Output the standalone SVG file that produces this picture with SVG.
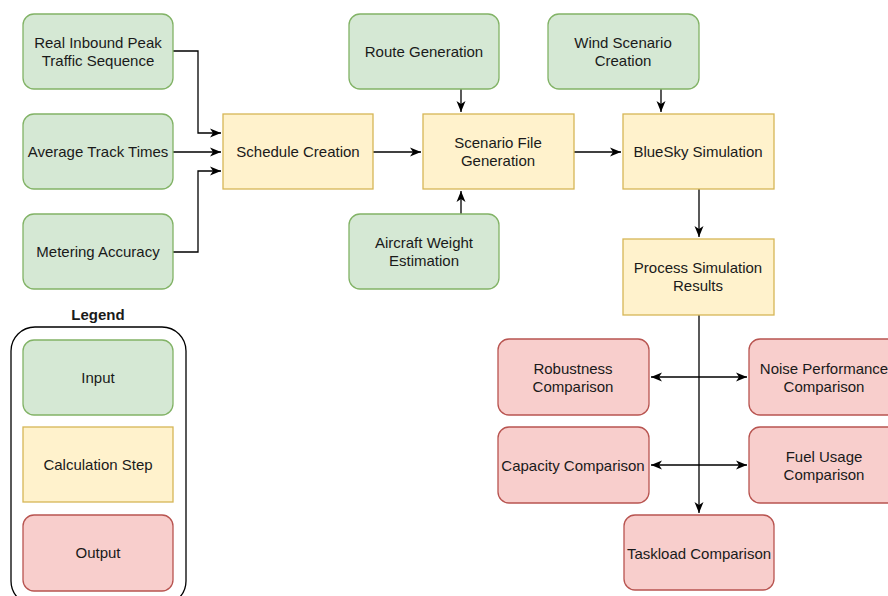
<svg xmlns="http://www.w3.org/2000/svg" width="888" height="596" viewBox="0 0 888 596">
<style>
.in{fill:#d5e8d4;stroke:#82b366;stroke-width:1.3}
.calc{fill:#fff2cc;stroke:#d6b656;stroke-width:1.3}
.out{fill:#f8cecc;stroke:#b85450;stroke-width:1.3}
text{font-family:Arial,"Liberation Sans",Helvetica,sans-serif;font-size:15px;fill:#1a1a1a;text-anchor:middle}
.c{fill:none;stroke:#000;stroke-width:1.3}
</style>
<defs>
<marker id="a" markerUnits="userSpaceOnUse" markerWidth="12" markerHeight="10" viewBox="0 0 12 10" refX="11" refY="5" orient="auto-start-reverse">
<path d="M0,0.5 L11,5 L0,9.5 L3,5 z" fill="#000"/>
</marker>
</defs>
<g id="connectors">
<path class="c" d="M173,51 H198 V133 H221" marker-end="url(#a)"/>
<path class="c" d="M173,152 H221" marker-end="url(#a)"/>
<path class="c" d="M173,252 H198 V171 H221" marker-end="url(#a)"/>
<path class="c" d="M373,152 H421" marker-end="url(#a)"/>
<path class="c" d="M461,89 V112" marker-end="url(#a)"/>
<path class="c" d="M461,214 V191" marker-end="url(#a)"/>
<path class="c" d="M574,152 H621" marker-end="url(#a)"/>
<path class="c" d="M661,89 V112" marker-end="url(#a)"/>
<path class="c" d="M699,189 V237" marker-end="url(#a)"/>
<path class="c" d="M699,315 V513" marker-end="url(#a)"/>
<path class="c" d="M651,377 H747" marker-start="url(#a)" marker-end="url(#a)"/>
<path class="c" d="M651,465 H747" marker-start="url(#a)" marker-end="url(#a)"/>
</g>
<g id="real-inbound"><rect class="in" x="23" y="14" width="150" height="75" rx="11"/><text x="98" y="48">Real Inbound Peak</text><text x="98" y="66">Traffic Sequence</text></g>
<g id="avg-track"><rect class="in" x="23" y="114" width="150" height="75" rx="11"/><text x="98" y="157">Average Track Times</text></g>
<g id="metering"><rect class="in" x="23" y="214" width="150" height="75" rx="11"/><text x="98" y="257">Metering Accuracy</text></g>
<g id="schedule"><rect class="calc" x="223" y="114" width="150" height="75"/><text x="298" y="157">Schedule Creation</text></g>
<g id="route"><rect class="in" x="349" y="14" width="150" height="75" rx="11"/><text x="424" y="57">Route Generation</text></g>
<g id="scenario"><rect class="calc" x="423" y="114" width="151" height="75"/><text x="498" y="148">Scenario File</text><text x="498" y="166">Generation</text></g>
<g id="aircraft"><rect class="in" x="349" y="214" width="150" height="75" rx="11"/><text x="424" y="248">Aircraft Weight</text><text x="424" y="266">Estimation</text></g>
<g id="wind"><rect class="in" x="548" y="14" width="151" height="75" rx="11"/><text x="623" y="48">Wind Scenario</text><text x="623" y="66">Creation</text></g>
<g id="bluesky"><rect class="calc" x="623" y="114" width="151" height="75"/><text x="698" y="157">BlueSky Simulation</text></g>
<g id="process"><rect class="calc" x="623" y="239" width="151" height="76"/><text x="698" y="273">Process Simulation</text><text x="698" y="291">Results</text></g>
<g id="robustness"><rect class="out" x="498" y="339" width="151" height="76" rx="11"/><text x="573" y="374">Robustness</text><text x="573" y="392">Comparison</text></g>
<g id="noise"><rect class="out" x="749" y="339" width="151" height="76" rx="11"/><text x="824" y="374">Noise Performance</text><text x="824" y="392">Comparison</text></g>
<g id="capacity"><rect class="out" x="498" y="427" width="151" height="76" rx="11"/><text x="573" y="471">Capacity Comparison</text></g>
<g id="fuel"><rect class="out" x="749" y="427" width="151" height="76" rx="11"/><text x="824" y="462">Fuel Usage</text><text x="824" y="480">Comparison</text></g>
<g id="taskload"><rect class="out" x="624" y="515" width="150" height="75" rx="11"/><text x="699" y="559">Taskload Comparison</text></g>
<g id="legend">
<text x="98" y="320" style="font-weight:bold">Legend</text>
<rect x="11" y="327" width="175" height="278" rx="24" fill="none" stroke="#000" stroke-width="1.3"/>
<g id="legend-input"><rect class="in" x="23" y="340" width="150" height="75" rx="11"/><text x="98" y="383">Input</text></g>
<g id="legend-calc"><rect class="calc" x="23" y="427" width="150" height="75"/><text x="98" y="470">Calculation Step</text></g>
<g id="legend-output"><rect class="out" x="23" y="515" width="150" height="76" rx="11"/><text x="98" y="558">Output</text></g>
</g>
</svg>
